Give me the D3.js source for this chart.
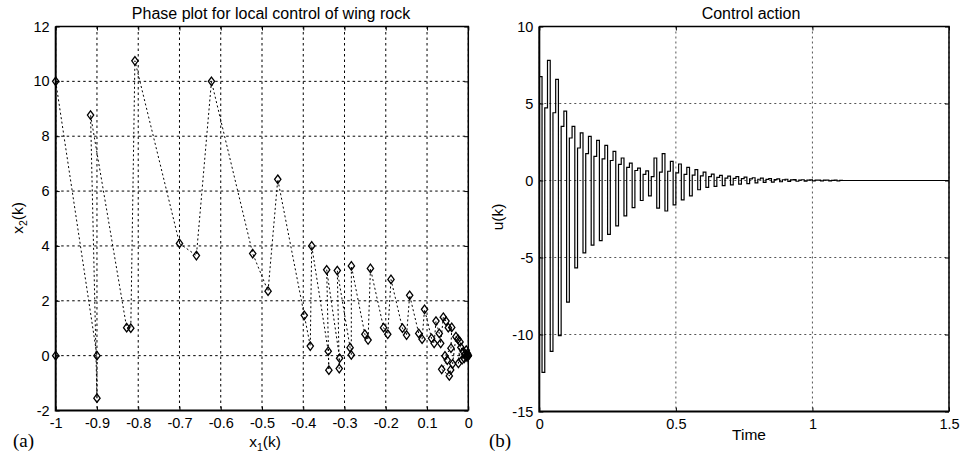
<!DOCTYPE html>
<html>
<head>
<meta charset="utf-8">
<script src="https://cdn.jsdelivr.net/npm/d3@7"></script>
<style>
  body { margin: 0; background: #fff; }
  svg { display: block; font-family: "Liberation Sans", Arial, sans-serif; }
</style>
</head>
<body>
<div id="chart"></div>
<script>
// phase plot samples x1(k), x2(k)
const phaseX1 = [-1, -1, -0.9, -0.9, -0.9155, -0.828, -0.818, -0.808, -0.700, -0.659, -0.6225,
  -0.5225, -0.4853, -0.4618, -0.3975, -0.383, -0.3795, -0.3395, -0.3379, -0.3432, -0.3119,
  -0.3128, -0.3175, -0.2865, -0.2836, -0.2834, -0.2507, -0.2429, -0.2372, -0.2054, -0.1952,
  -0.1874, -0.1596, -0.1496, -0.1421, -0.1201, -0.112, -0.106, -0.0891, -0.0828, -0.0783,
  -0.0703, -0.0669, -0.0606, -0.054, -0.0485, -0.0402, -0.042, -0.0565, -0.051, -0.0645,
  -0.046, -0.0427, -0.038, -0.03, -0.025, -0.02, -0.024, -0.018, -0.012, -0.015, -0.008,
  -0.01, -0.005, -0.003, -0.002, -0.001, 0, 0];
const phaseX2 = [0, 10, 0, -1.55, 8.77, 1.02, 1.0, 10.75, 4.09, 3.65, 10.0,
  3.72, 2.35, 6.43, 1.47, 0.35, 4.0, 0.16, -0.53, 3.13, -0.095,
  -0.47, 3.1, 0.29, 0.025, 3.27, 0.78, 0.57, 3.18, 1.02, 0.78,
  2.78, 1.0, 0.75, 2.2, 0.81, 0.6, 1.69, 0.63, 0.45, 1.26,
  0.81, 0.45, 1.4, 1.26, 1.02, 1.03, 0.27, -0.01, -0.16, -0.5,
  -0.74, -0.52, -0.3, 0.69, 0.6, 0.5, -0.28, 0.3, 0.15, -0.15, 0.05,
  -0.1, 0.2, -0.05, 0.08, 0.02, 0, 0];

const phaseXTicks = [-1, -0.9, -0.8, -0.7, -0.6, -0.5, -0.4, -0.3, -0.2, -0.1, 0];
const phaseXLabels = ['-1', '-0.9', '-0.8', '-0.7', '-0.6', '-0.5', '-0.4', '-0.3', '-0.2', '0.1', '0'];
const phaseYTicks = [-2, 0, 2, 4, 6, 8, 10, 12];

// control action u(k), one value per sample
const controlU = [
  6.74, -12.46, 4.72, 7.8, -11.1, 4.4, 6.57, -10.07, 3.52, 4.5, -7.9, 2.76,
  3.52, -5.67, 2.11, 3.09, -4.7, 1.74, 2.87, -4.2, 1.57, 2.61, -3.91, 1.4,
  2.28, -3.5, 1.3, 1.89, -2.95, 1.05, 1.46, -2.3, 0.85, 1.13, -1.76, 0.65,
  0.81, -1.3, 0.4, 0.63, -1.0, 0.25, 1.46, -1.8, 0.55, 1.74, -1.98, 0.6,
  1.24, -1.58, 0.5, 1.07, -1.26, 0.4, 0.85, -1.0, 0.35, 0.7, -0.6, 0.3,
  0.55, -0.45, 0.25, 0.42, -0.38, 0.2, 0.33, -0.33, 0.16, 0.28, -0.28, 0.14,
  0.25, -0.24, 0.12, 0.22, -0.2, 0.1, 0.18, -0.15, 0.08, 0.15, -0.12, 0.07,
  0.12, -0.1, 0.06, 0.1, -0.08, 0.05, 0.08, -0.06, 0.04, 0.06, -0.05, 0.03,
  0.05, -0.04, 0.03, 0.04, -0.03, 0.02, 0.03, -0.03, 0.02, 0.03, -0.02, 0.01,
  0.02, -0.02, 0.01, 0];
const sampleTime = 0.01;
const timeEnd = 1.5;
const timeTicks = [0, 0.5, 1, 1.5];
const timeLabels = ['0', '0.5', '1', '1.5'];
const uTicks = [-15, -10, -5, 0, 5, 10];

const svg = d3.select('#chart').append('svg').attr('width', 962).attr('height', 460);

function panel(box, xDomain, yDomain, xTicks, xLabels, yTicks, grid) {
  const x = d3.scaleLinear().domain(xDomain).range([box.left, box.right]);
  const y = d3.scaleLinear().domain(yDomain).range([box.bottom, box.top]);
  const g = svg.append('g');

  const gg = g.append('g').attr('stroke', grid.color).attr('stroke-width', 1).attr('stroke-dasharray', grid.dash);
  gg.selectAll('.vx').data(xTicks).join('line')
    .attr('x1', d => x(d)).attr('x2', d => x(d)).attr('y1', box.top).attr('y2', box.bottom);
  gg.selectAll('.hy').data(yTicks).join('line')
    .attr('y1', d => y(d)).attr('y2', d => y(d)).attr('x1', box.left).attr('x2', box.right);

  const style = sel => {
    sel.select('.domain').remove();
    sel.selectAll('line').attr('stroke', '#000');
    sel.selectAll('text').attr('font-size', 14.5).attr('font-family', '"Liberation Sans", Arial, sans-serif').attr('fill', '#000');
  };
  g.append('g').attr('transform', `translate(0,${box.bottom})`)
    .call(d3.axisBottom(x).tickValues(xTicks).tickFormat((d, i) => xLabels[i]).tickSize(-4).tickPadding(7)).call(style);
  g.append('g').attr('transform', `translate(0,${box.top})`)
    .call(d3.axisTop(x).tickValues(xTicks).tickFormat('').tickSize(-4)).call(style);
  g.append('g').attr('transform', `translate(${box.left},0)`)
    .call(d3.axisLeft(y).tickValues(yTicks).tickFormat(d => String(d)).tickSize(-4).tickPadding(6)).call(style);
  g.append('g').attr('transform', `translate(${box.right},0)`)
    .call(d3.axisRight(y).tickValues(yTicks).tickFormat('').tickSize(-4)).call(style);

  // box
  g.append('path').attr('fill', 'none').attr('stroke', '#000').attr('stroke-width', 1.5)
    .attr('d', `M${box.left},${box.top}H${box.right}V${box.bottom}`);
  g.append('path').attr('fill', 'none').attr('stroke', '#000').attr('stroke-width', 2)
    .attr('d', `M${box.left},${box.top}V${box.bottom}H${box.right}`);

  return { x, y, g };
}

// left: phase plot
const left = panel({ left: 55.7, right: 468.3, top: 26.5, bottom: 410.5 }, [-1, 0], [-2, 12],
  phaseXTicks, phaseXLabels, phaseYTicks, { color: '#000', dash: '2.5,3' });

const phase = phaseX1.map((d, i) => [d, phaseX2[i]]);
left.g.append('path').datum(phase)
  .attr('fill', 'none').attr('stroke', '#000').attr('stroke-width', 1).attr('stroke-dasharray', '2,2.5')
  .attr('d', d3.line().x(d => left.x(d[0])).y(d => left.y(d[1])));

const diamond = {
  draw(ctx, size) {
    const w = Math.sqrt(size) * 0.5, h = w * 1.35;
    ctx.moveTo(0, -h); ctx.lineTo(w, 0); ctx.lineTo(0, h); ctx.lineTo(-w, 0); ctx.closePath();
  }
};
left.g.append('g').selectAll('path').data(phase).join('path')
  .attr('transform', d => `translate(${left.x(d[0])},${left.y(d[1])})`)
  .attr('d', d3.symbol(diamond, 40))
  .attr('fill', 'none').attr('stroke', '#000').attr('stroke-width', 1.3);

// right: control action
const right = panel({ left: 539.3, right: 949, top: 26.5, bottom: 411.5 }, [0, timeEnd], [-15, 10],
  timeTicks, timeLabels, uTicks, { color: '#555', dash: '2,3' });

const uPoints = controlU.map((u, k) => [k * sampleTime, u]);
uPoints.push([timeEnd, controlU[controlU.length - 1]]);
right.g.append('path').datum(uPoints)
  .attr('fill', 'none').attr('stroke', '#000').attr('stroke-width', 1.2)
  .attr('d', d3.line().curve(d3.curveStepAfter).x(d => right.x(d[0])).y(d => right.y(d[1])));

// titles and labels
const txt = (x, y, s, size) => svg.append('text').attr('x', x).attr('y', y)
  .attr('font-size', size).attr('text-anchor', 'middle').text(s);
txt(271, 18.5, 'Phase plot for local control of wing rock', 16);
txt(751, 18.5, 'Control action', 16);
txt(749, 440, 'Time', 15.5);

const x1 = svg.append('text').attr('x', 265).attr('y', 447).attr('font-size', 15.5).attr('text-anchor', 'middle');
x1.append('tspan').text('x');
x1.append('tspan').attr('font-size', 10.5).attr('dy', 4).text('1');
x1.append('tspan').attr('dy', -4).text('(k)');

const x2 = svg.append('text').attr('transform', 'translate(23,218) rotate(-90)').attr('font-size', 15.5).attr('text-anchor', 'middle');
x2.append('tspan').text('x');
x2.append('tspan').attr('font-size', 10.5).attr('dy', 4).text('2');
x2.append('tspan').attr('dy', -4).text('(k)');

svg.append('text').attr('transform', 'translate(503,217) rotate(-90)').attr('font-size', 15.5)
  .attr('text-anchor', 'middle').text('u(k)');

svg.append('text').attr('x', 13).attr('y', 447).attr('font-size', 19)
  .attr('font-family', '"Liberation Serif", "Times New Roman", serif').text('(a)');
svg.append('text').attr('x', 489).attr('y', 447).attr('font-size', 19)
  .attr('font-family', '"Liberation Serif", "Times New Roman", serif').text('(b)');
</script>
</body>
</html>
